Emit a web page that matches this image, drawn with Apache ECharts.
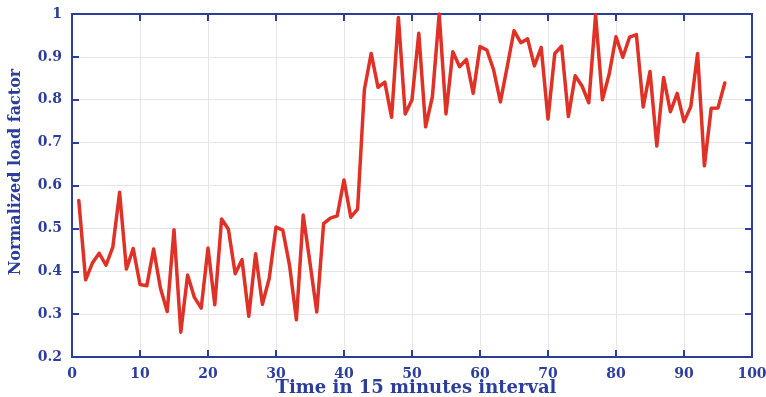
<!DOCTYPE html>
<html>
<head>
<meta charset="utf-8">
<script src="https://cdn.jsdelivr.net/npm/echarts@6/dist/echarts.min.js"></script>
<style>
  html, body { margin: 0; padding: 0; background: #fff; }
  #chart { width: 766px; height: 397px; }
</style>
</head>
<body>
<div id="chart"></div>
<script>
// Time index (15-minute intervals)
const timeSteps = Array.from({ length: 96 }, (_, i) => i + 1);

// Normalized load factor per interval
const loadFactor = [
  0.565, 0.380, 0.419, 0.442, 0.414, 0.456, 0.584, 0.405, 0.453, 0.369,
  0.366, 0.452, 0.361, 0.306, 0.497, 0.258, 0.391, 0.339, 0.314, 0.454,
  0.322, 0.522, 0.498, 0.394, 0.427, 0.295, 0.441, 0.323, 0.383, 0.503,
  0.496, 0.413, 0.287, 0.531, 0.419, 0.305, 0.511, 0.524, 0.529, 0.613,
  0.526, 0.545, 0.824, 0.908, 0.829, 0.841, 0.759, 0.992, 0.767, 0.800,
  0.955, 0.737, 0.807, 1.000, 0.767, 0.912, 0.877, 0.894, 0.815, 0.924,
  0.916, 0.870, 0.795, 0.877, 0.961, 0.933, 0.942, 0.879, 0.922, 0.755,
  0.908, 0.925, 0.761, 0.856, 0.832, 0.793, 0.998, 0.800, 0.860, 0.947,
  0.899, 0.946, 0.952, 0.783, 0.866, 0.692, 0.852, 0.772, 0.815, 0.749,
  0.784, 0.908, 0.646, 0.780, 0.781, 0.839
];

const xTicks = [0, 100, 10];      // min, max, step
const yTicks = [0.2, 1.0, 0.1];   // min, max, step

const xTitle = 'Time in 15 minutes interval';
const yTitle = 'Normalized load factor';

const AXIS_BLUE = '#2B3E9C';
const FONT = '"DejaVu Serif", "Liberation Serif", serif';

const chart = echarts.init(document.getElementById('chart'), null, { renderer: 'canvas' });

const boxAxisLine = { show: true, onZero: false, lineStyle: { color: AXIS_BLUE, width: 2 } };
const innerTick = { show: true, inside: true, length: 7, lineStyle: { color: AXIS_BLUE, width: 2 } };

chart.setOption({
  animation: false,
  grid: { left: 72, right: 14, top: 14, bottom: 40, containLabel: false, outerBoundsMode: 'none' },
  graphic: [
    {
      type: 'text',
      x: 16, y: 172,
      rotation: Math.PI / 2,
      style: {
        text: yTitle,
        fill: AXIS_BLUE,
        font: 'bold 16px ' + FONT,
        align: 'center',
        verticalAlign: 'middle'
      }
    },
    {
      type: 'text',
      x: 416, y: 388,
      style: {
        text: xTitle,
        fill: AXIS_BLUE,
        font: 'bold 18px ' + FONT,
        align: 'center',
        verticalAlign: 'middle'
      }
    }
  ],
  xAxis: [
    {
      type: 'value',
      min: xTicks[0], max: xTicks[1], interval: xTicks[2],
      axisLine: boxAxisLine,
      axisTick: innerTick,
      axisLabel: { color: AXIS_BLUE, fontFamily: FONT, fontWeight: 'bold', fontSize: 14, margin: 10 },
      splitLine: { show: true, lineStyle: { color: '#E6E6E6', width: 1 } }
    },
    {
      type: 'value', position: 'top',
      min: xTicks[0], max: xTicks[1], interval: xTicks[2],
      axisLine: boxAxisLine,
      axisTick: innerTick,
      axisLabel: { show: false },
      splitLine: { show: false }
    }
  ],
  yAxis: [
    {
      type: 'value',
      min: yTicks[0], max: yTicks[1], interval: yTicks[2],
      axisLine: boxAxisLine,
      axisTick: innerTick,
      axisLabel: {
        color: AXIS_BLUE, fontFamily: FONT, fontWeight: 'bold', fontSize: 14, margin: 10,
        formatter: v => (Math.abs(v - 1) < 1e-9 ? '1' : v.toFixed(1))
      },
      splitLine: { show: true, lineStyle: { color: '#E6E6E6', width: 1 } }
    },
    {
      type: 'value', position: 'right',
      min: yTicks[0], max: yTicks[1], interval: yTicks[2],
      axisLine: boxAxisLine,
      axisTick: innerTick,
      axisLabel: { show: false },
      splitLine: { show: false }
    }
  ],
  series: [
    {
      type: 'line',
      xAxisIndex: 0, yAxisIndex: 0,
      data: timeSteps.map((t, i) => [t, loadFactor[i]]),
      showSymbol: false,
      lineStyle: { color: '#E03127', width: 3.5, join: 'round', cap: 'round' },
      itemStyle: { color: '#E03127' }
    }
  ]
});
</script>
</body>
</html>
